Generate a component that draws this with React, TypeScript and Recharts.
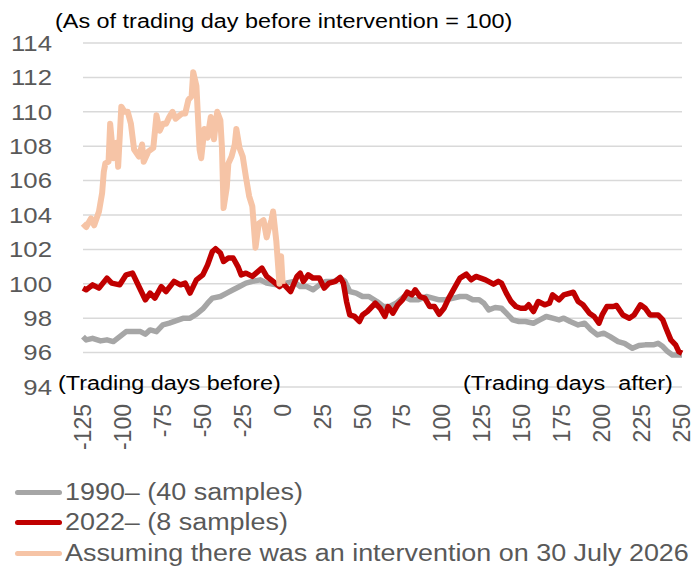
import { LineChart, Line, XAxis, YAxis, CartesianGrid, Legend } from "recharts";

// trading days relative to the intervention, values indexed to 100
const dayTicks = [-125, -100, -75, -50, -25, 0, 25, 50, 75, 100, 125, 150, 175, 200, 225, 250];
const valueTicks = [94, 96, 98, 100, 102, 104, 106, 108, 110, 112, 114];

const grayDays = [
  -125, -123, -119, -114, -110, -106, -102, -98, -94, -89, -86, -83, -79, -75, -71, -67, -62, -58, -54, -50,
  -47, -44, -39, -35, -31, -27, -23, -19, -14, -10, -4, 0, 2, 7, 11, 15, 19, 23, 27, 32, 36, 39, 42, 46, 50,
  54, 59, 63, 67, 71, 76, 80, 85, 90, 94, 98, 102, 107, 111, 115, 119, 123, 126, 129, 133, 137, 140, 144, 148,
  152, 157, 161, 165, 169, 173, 176, 180, 185, 189, 193, 197, 201, 205, 210, 214, 219, 223, 227, 232, 235, 238,
  241, 244, 250,
];
const grayValues = [
  96.93, 96.74, 96.83, 96.68, 96.74, 96.64, 96.93, 97.22, 97.22, 97.22, 97.07, 97.32, 97.22, 97.61, 97.71, 97.84,
  98.0, 98.0, 98.23, 98.54, 98.87, 99.17, 99.26, 99.46, 99.65, 99.84, 100.04, 100.14, 100.23, 100.04, 99.94, 100.0,
  100.04, 100.14, 99.84, 99.84, 99.65, 99.94, 100.14, 100.14, 100.33, 100.14, 99.55, 99.46, 99.26, 99.26, 98.97,
  98.68, 98.68, 98.87, 99.26, 99.07, 99.07, 99.26, 99.17, 99.07, 99.07, 99.17, 99.26, 99.26, 99.07, 99.07, 98.87,
  98.48, 98.62, 98.58, 98.29, 97.9, 97.81, 97.81, 97.71, 97.9, 98.1, 98.0, 97.9, 98.0, 97.81, 97.61, 97.71, 97.32,
  97.03, 97.13, 96.93, 96.64, 96.54, 96.25, 96.41, 96.45, 96.45, 96.54, 96.35, 96.06, 95.86, 95.86,
];

const redDays = [
  -125, -123, -119, -115, -110, -107, -102, -98, -94, -90, -86, -83, -80, -76, -73, -68, -64, -61, -58, -54, -50,
  -47, -44, -42, -39, -37, -34, -31, -28, -26, -23, -19, -13, -10, -6, -2, 0, 1, 5, 9, 11, 13, 16, 19, 23, 26, 29,
  33, 36, 38, 40, 42, 45, 48, 50, 53, 58, 61, 64, 66, 69, 72, 75, 78, 81, 83, 86, 89, 92, 95, 98, 101, 104, 108,
  111, 115, 118, 121, 124, 127, 132, 135, 137, 140, 143, 146, 149, 152, 154, 157, 160, 164, 167, 169, 173, 176,
  182, 185, 188, 192, 195, 198, 200, 203, 207, 209, 213, 217, 220, 224, 227, 230, 235, 238, 240, 243, 246, 248, 250,
];
const redValues = [
  99.75, 99.65, 99.94, 99.75, 100.33, 100.04, 99.94, 100.52, 100.62, 99.84, 99.07, 99.46, 99.17, 99.84, 99.55,
  100.14, 99.94, 100.04, 99.46, 100.23, 100.52, 101.1, 101.88, 102.04, 101.79, 101.3, 101.5, 101.5, 101.0, 100.52,
  100.62, 100.43, 100.91, 100.43, 100.14, 99.84, 100.0, 99.94, 99.55, 100.43, 100.62, 100.14, 100.52, 100.33,
  100.33, 99.75, 100.04, 100.14, 100.37, 100.04, 98.97, 98.19, 98.1, 97.81, 98.19, 98.39, 98.87, 98.58, 98.1,
  98.68, 98.29, 98.78, 99.07, 99.51, 99.36, 99.65, 99.26, 99.17, 98.68, 98.68, 98.23, 98.58, 99.17, 99.84, 100.33,
  100.56, 100.23, 100.43, 100.33, 100.23, 99.98, 100.14, 100.04, 99.46, 98.97, 98.68, 98.58, 98.58, 98.78, 98.39,
  98.97, 98.78, 98.87, 99.36, 99.07, 99.36, 99.51, 98.97, 98.78, 98.29, 98.1, 97.71, 98.19, 98.68, 98.68, 98.74,
  98.19, 98.0, 98.19, 98.78, 98.58, 98.19, 98.19, 97.9, 97.42, 96.74, 96.45, 96.06, 95.96,
];

const peachDays = [
  -125, -123, -120, -118, -115, -113, -112, -111, -109, -108, -106, -104, -103, -101, -99, -97, -95, -93, -90, -88,
  -87, -84, -81, -79, -77, -75, -73, -71, -69, -67, -63, -61, -59, -57, -56, -54, -52, -51, -49, -47, -45, -43, -41,
  -39, -38, -37, -35, -34, -32, -30, -29, -27, -25, -23, -21, -19, -17, -15, -12, -10, -9, -7, -6, -4, -2, -1, 0,
];
const peachValues = [
  103.5, 103.3, 103.8, 103.4, 104.2, 105.3, 106.5, 107.0, 107.1, 109.3, 107.3, 108.2, 106.8, 110.3, 110.0, 110.0,
  109.3, 107.8, 107.4, 108.1, 107.1, 107.7, 107.9, 109.8, 108.9, 109.3, 109.3, 109.7, 110.0, 109.6, 109.9, 109.9,
  110.7, 110.9, 112.3, 111.5, 107.8, 107.3, 109.0, 108.5, 109.7, 108.4, 110.0, 109.5, 107.9, 104.4, 105.6, 107.0,
  107.4, 108.1, 109.0, 107.9, 107.4, 106.2, 105.1, 104.5, 102.1, 103.5, 103.7, 102.7, 103.1, 103.7, 104.2, 102.5,
  100.0, 101.6, 100.0,
];

const toRows = (days: number[], values: number[]) => days.map((day, i) => ({ day, value: values[i] }));

const grayData = toRows(grayDays, grayValues);
const redData = toRows(redDays, redValues);
const peachData = toRows(peachDays, peachValues);

const FONT = '"Liberation Sans", Arial, sans-serif';
// the source image is a little wider than tall, text included
const STRETCH = 1.17;

function XTick({ x, y, payload }: any) {
  return (
    <text
      transform={`translate(${x},${y}) rotate(-90)`}
      textAnchor="end"
      dy={8}
      fill="#595959"
      fontSize={23}
      fontFamily={FONT}
    >
      {payload.value}
    </text>
  );
}

function YTick({ x, y, payload }: any) {
  return (
    <text
      transform={`translate(${x},${y}) scale(${STRETCH},1)`}
      textAnchor="end"
      dy="0.355em"
      fill="#595959"
      fontSize={22}
      fontFamily={FONT}
    >
      {payload.value}
    </text>
  );
}

function LegendBox({ payload }: any) {
  return (
    <div style={{ fontFamily: FONT, fontSize: 23, color: "#595959" }}>
      {(payload ?? []).map((item: any) => (
        <div key={item.value} style={{ display: "flex", alignItems: "center", height: 30.5 }}>
          <span
            style={{
              display: "inline-block",
              width: 47,
              height: 5,
              borderRadius: 3,
              background: item.color,
              marginRight: 3,
            }}
          />
          <span
            style={{
              display: "inline-block",
              whiteSpace: "nowrap",
              transform: `scaleX(${STRETCH})`,
              transformOrigin: "left center",
            }}
          >
            {item.value}
          </span>
        </div>
      ))}
    </div>
  );
}

const noteStyle = {
  position: "absolute" as const,
  fontFamily: FONT,
  fontSize: 20,
  lineHeight: "20px",
  color: "#000",
  whiteSpace: "pre" as const,
  transform: `scaleX(${STRETCH})`,
  transformOrigin: "left top",
};

export default function App() {
  return (
    <div style={{ position: "absolute", left: 0, top: 0, width: 695, height: 575, background: "#fff" }}>
      <div style={{ ...noteStyle, left: 55, top: 11 }}>(As of trading day before intervention = 100)</div>
      <LineChart width={695} height={575} margin={{ top: 43, right: 13, bottom: 120, left: 8 }}>
        <CartesianGrid vertical={false} stroke="#D9D9D9" strokeWidth={1.5} />
        <XAxis
          dataKey="day"
          type="number"
          domain={[-125, 250]}
          ticks={dayTicks}
          interval={0}
          height={68}
          axisLine={false}
          tickLine={false}
          tickSize={0}
          tickMargin={17}
          tick={<XTick />}
          allowDuplicatedCategory={false}
        />
        <YAxis
          type="number"
          domain={[94, 114]}
          ticks={valueTicks}
          width={75}
          axisLine={false}
          tickLine={false}
          tickSize={0}
          tickMargin={31}
          tick={<YTick />}
        />
        <Legend
          layout="vertical"
          align="center"
          verticalAlign="middle"
          content={<LegendBox />}
          wrapperStyle={{ left: 15, top: 477, width: 680 }}
        />
        <Line
          data={grayData}
          dataKey="value"
          name="1990– (40 samples)"
          stroke="#A6A6A6"
          strokeWidth={5.5}
          dot={false}
          strokeLinejoin="round"
          isAnimationActive={false}
        />
        <Line
          data={redData}
          dataKey="value"
          name="2022– (8 samples)"
          stroke="#C00000"
          strokeWidth={5.5}
          dot={false}
          strokeLinejoin="round"
          isAnimationActive={false}
        />
        <Line
          data={peachData}
          dataKey="value"
          name="Assuming there was an intervention on 30 July 2026"
          stroke="#F6C4A6"
          strokeWidth={6}
          dot={false}
          strokeLinejoin="round"
          isAnimationActive={false}
        />
      </LineChart>
      <div style={{ ...noteStyle, left: 58, top: 373 }}>(Trading days before)</div>
      <div style={{ ...noteStyle, left: 463, top: 373 }}>(Trading days  after)</div>
    </div>
  );
}
